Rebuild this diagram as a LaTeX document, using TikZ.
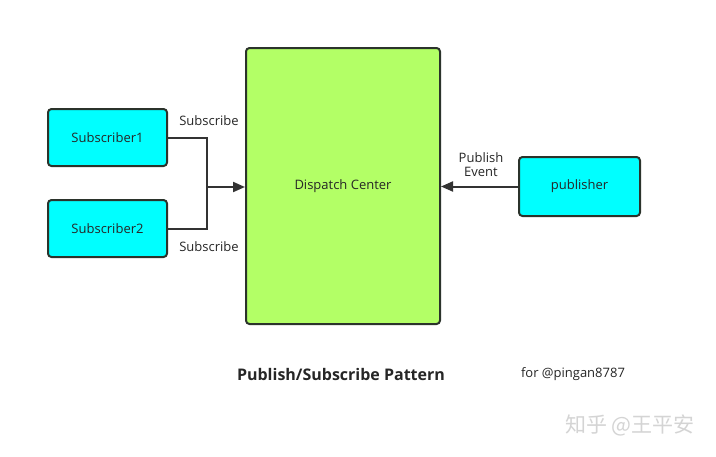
\documentclass[tikz,border=0pt]{standalone}
\usepackage{fontspec}
\setmainfont{Open Sans}
\newfontfamily\cjk{Noto Sans CJK SC}
\usetikzlibrary{arrows.meta}
\definecolor{boxcyan}{HTML}{00FFFF}
\definecolor{boxgreen}{HTML}{B3FF66}
\definecolor{edge}{HTML}{2B332B}
\definecolor{wm}{HTML}{D4D4D4}
\begin{document}
\begin{tikzpicture}[x=1pt,y=-1pt,
  box/.style={draw=edge,line width=2pt,rounded corners=3.5pt,inner sep=0pt,font=\fontsize{13}{15}\selectfont,text=black!85},
  conn/.style={draw=black!80,line width=2pt},
  lbl/.style={font=\fontsize{13}{15}\selectfont,text=black!85,align=center,inner sep=0pt}]
\useasboundingbox (0,0) rectangle (716,456);
\fill[white] (0,0) rectangle (716,456);
\node[box,fill=boxgreen,minimum width=194pt,minimum height=276pt] (dc) at (343,186) {Dispatch Center};
\node[box,fill=boxcyan,minimum width=119pt,minimum height=57pt] (s1) at (107.5,137.5) {Subscriber1};
\node[box,fill=boxcyan,minimum width=119pt,minimum height=57pt] (s2) at (107.5,228.5) {Subscriber2};
\node[box,fill=boxcyan,minimum width=121pt,minimum height=59pt] (pub) at (579.5,186.5) {publisher};
\coordinate (j) at (207,187);
\draw[conn] (s1.east) -| (j);
\draw[conn] (s2.east) -| (j);
\draw[conn,-{Triangle[length=12pt,width=10pt]}] (j) -- (j -| dc.west);
\draw[conn,-{Triangle[length=12pt,width=10pt]}] (pub.west) -- (pub.west -| dc.east);
\node[lbl] (l1) at (209,121) {Subscribe};
\node[lbl] (l2) at (209,247) {Subscribe};
\node[lbl] (l3) at (481,165) {Publish\\[-1pt]Event};
\node[lbl,font=\bfseries\fontsize{16}{18}\selectfont,text=black!85] (title) at (341,374) {Publish/Subscribe Pattern};
\node[lbl] (for) at (573,374) {for @pingan8787};
\node[inner sep=0pt,text=wm,font=\cjk\fontsize{21}{24}\selectfont] (wmk) at (630,425) {知乎 @王平安};
\end{tikzpicture}
\end{document}
